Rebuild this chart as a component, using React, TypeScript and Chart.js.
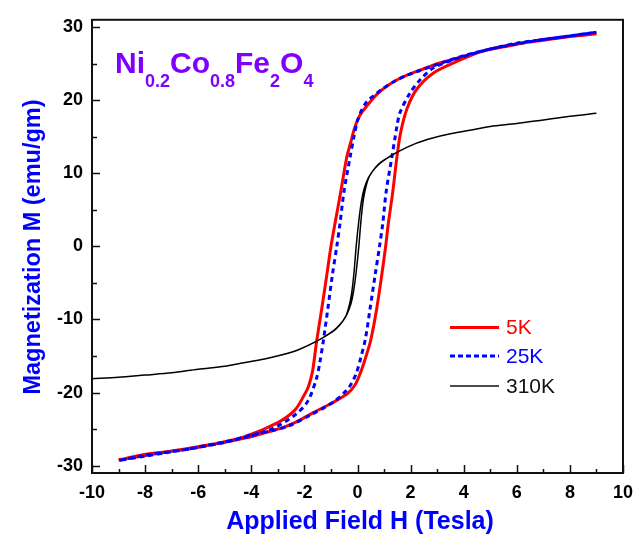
import React, { useEffect, useRef } from 'react';
import { Chart, registerables } from 'chart.js';

Chart.register(...registerables);

// ---- Data (H in Tesla, M in emu/gm) ----
// 5K loop: descending branch (+9 -> -9) then ascending branch (-9 -> +9)
const h5K_down = [9, 8, 7, 6, 5, 4.6, 4, 3.5, 3, 2.5, 2.2, 1.6, 1.1, 0.7, 0.35, 0.1, -0.1, -0.25, -0.41, -0.63, -0.85, -1.0, -1.16, -1.35, -1.54, -1.69, -1.85, -2.0, -2.36, -3.0, -4.3, -5.5, -6.5, -7.9, -9];
const m5K_down = [29.1, 28.7, 28.2, 27.7, 27.0, 26.6, 26.0, 25.5, 25.0, 24.3, 23.9, 23.0, 21.9, 20.7, 19.2, 18.0, 16.3, 14.3, 12.1, 7.5, 3.1, 0, -4.0, -8.6, -13.0, -17.0, -19.2, -20.3, -22.4, -24.1, -26.1, -27.1, -27.8, -28.4, -29.2];
const h5K_up = [-9, -8, -7, -6, -5, -4.2, -3.5, -2.9, -2.3, -1.7, -1.0, -0.4, -0.1, 0.1, 0.28, 0.5, 0.72, 0.91, 1.06, 1.16, 1.33, 1.48, 1.62, 1.86, 2.23, 2.85, 3.74, 4.6, 5.5, 7, 8, 9];
const m5K_up = [-29.2, -28.6, -28.0, -27.4, -26.8, -26.2, -25.5, -24.9, -24.0, -22.8, -21.5, -20.2, -19.0, -17.4, -15.5, -12.8, -8.6, -4.0, 0, 3.1, 7.5, 12.1, 15.5, 18.8, 21.5, 23.7, 25.3, 26.6, 27.3, 28.3, 28.7, 29.1];

// 25K loop
const h25K_down = [9, 8, 7, 6, 5, 4, 3.5, 2.85, 2.3, 1.86, 1.4, 0.96, 0.6, 0.35, 0.15, 0, -0.14, -0.28, -0.51, -0.66, -0.78, -0.95, -1.12, -1.29, -1.42, -1.54, -1.86, -2.3, -3.18, -4.2, -5.5, -6.5, -7.9, -9];
const m25K_down = [29.3, 28.8, 28.3, 27.7, 27.0, 26.1, 25.5, 24.7, 24.0, 23.4, 22.6, 21.6, 20.6, 19.8, 18.6, 17.2, 14.9, 12.2, 7.5, 3.1, 0, -4.0, -8.6, -13.0, -15.9, -18.0, -21.1, -22.9, -24.9, -26.1, -27.1, -27.8, -28.5, -29.3];
const h25K_up = [-9, -8, -7, -6, -5, -4, -3.2, -2.55, -1.79, -0.91, -0.47, -0.25, -0.05, 0.12, 0.3, 0.47, 0.66, 0.83, 0.95, 1.08, 1.29, 1.48, 1.6, 1.98, 2.36, 2.85, 3.5, 4.2, 5, 6, 7, 8, 9];
const m25K_up = [-29.3, -28.7, -28.1, -27.5, -26.8, -25.8, -25.2, -24.5, -23.1, -21.3, -19.9, -18.9, -17.4, -15.3, -12.6, -8.6, -4.0, 0, 3.1, 7.5, 12.1, 16.3, 18.3, 21.0, 22.8, 24.4, 25.4, 26.2, 27.0, 27.8, 28.3, 28.8, 29.3];

// 310K loop
const h310K_down = [9, 8, 7, 6, 5, 4.4, 3.5, 2.8, 2.2, 1.5, 1.05, 0.8, 0.55, 0.4, 0.25, 0.15, 0.05, -0.05, -0.13, -0.22, -0.32, -0.45, -0.7, -0.95, -1.55, -2.2, -2.8, -3.5, -4.4, -5, -6, -7, -8, -9, -10];
const m310K_down = [18.2, 17.8, 17.3, 16.8, 16.4, 16.0, 15.4, 14.8, 14.1, 12.9, 11.9, 11.2, 10.2, 9.3, 7.9, 6.2, 3.5, 0, -3.5, -6.4, -8.2, -9.6, -10.9, -11.7, -13.0, -14.1, -14.8, -15.4, -16.0, -16.4, -16.8, -17.3, -17.6, -17.9, -18.1];
const h310K_up = [-10, -9, -8, -7, -6, -5, -4.4, -3.5, -2.8, -2.2, -1.5, -1.05, -0.8, -0.55, -0.4, -0.25, -0.15, -0.05, 0.05, 0.13, 0.22, 0.32, 0.45, 0.7, 0.95, 1.55, 2.2, 2.8, 3.5, 4.4, 5, 6, 7, 8, 9];
const m310K_up = [-18.1, -17.9, -17.6, -17.3, -16.8, -16.4, -16.0, -15.4, -14.8, -14.1, -12.9, -11.9, -11.2, -10.2, -9.3, -7.9, -6.2, -3.5, 0, 3.5, 6.4, 8.2, 9.6, 10.9, 11.7, 13.0, 14.1, 14.8, 15.4, 16.0, 16.4, 16.8, 17.3, 17.8, 18.2];

const xTicks = [-10, -8, -6, -4, -2, 0, 2, 4, 6, 8, 10];
const xMinorTicks = [-9, -7, -5, -3, -1, 1, 3, 5, 7, 9];
const yTicks = [-30, -20, -10, 0, 10, 20, 30];
const yMinorTicks = [-25, -15, -5, 5, 15, 25];
const seriesLabels = ['5K', '25K', '310K'];
const xTitle = 'Applied Field H (Tesla)';
const yTitle = 'Magnetization M (emu/gm)';
const formulaParts: [string, string][] = [['Ni', '0.2'], ['Co', '0.8'], ['Fe', '2'], ['O', '4']];

const toPts = (hs: number[], ms: number[]) => hs.map((h, i) => ({ x: h, y: ms[i] }));

const RED = '#ff0000';
const BLUE = '#0000ff';
const BLACK = '#000000';
const FONT = '"Liberation Sans", Arial, sans-serif';

const decorPlugin = {
  id: 'decor',
  afterDraw(chart: any) {
    const ctx = chart.ctx as CanvasRenderingContext2D;
    const { left, right, top, bottom } = chart.chartArea;
    const xs = chart.scales.x;
    const ys = chart.scales.y;
    ctx.save();
    // frame
    ctx.strokeStyle = '#111';
    ctx.lineWidth = 2;
    ctx.strokeRect(left, top, right - left, bottom - top);
    // ticks inward
    ctx.lineWidth = 1.5;
    ctx.beginPath();
    xTicks.forEach(v => { const p = Math.round(xs.getPixelForValue(v)) + 0.5; ctx.moveTo(p, bottom); ctx.lineTo(p, bottom - 8); });
    xMinorTicks.forEach(v => { const p = Math.round(xs.getPixelForValue(v)) + 0.5; ctx.moveTo(p, bottom); ctx.lineTo(p, bottom - 4); });
    yTicks.forEach(v => { const p = Math.round(ys.getPixelForValue(v)) + 0.5; ctx.moveTo(left, p); ctx.lineTo(left + 8, p); });
    yMinorTicks.forEach(v => { const p = Math.round(ys.getPixelForValue(v)) + 0.5; ctx.moveTo(left, p); ctx.lineTo(left + 5, p); });
    ctx.stroke();

    // axis titles
    ctx.fillStyle = BLUE;
    ctx.textAlign = 'center';
    ctx.textBaseline = 'middle';
    ctx.font = `bold 25px ${FONT}`;
    ctx.fillText(xTitle, 360, 522);
    ctx.save();
    ctx.translate(34, 247);
    ctx.rotate(-Math.PI / 2);
    ctx.font = `bold 23.5px ${FONT}`;
    ctx.fillText(yTitle, 0, 0);
    ctx.restore();

    // formula
    ctx.fillStyle = '#8000ff';
    ctx.textAlign = 'left';
    ctx.textBaseline = 'alphabetic';
    let x = 115;
    const base = 73;
    formulaParts.forEach(([main, sub]) => {
      ctx.font = `bold 30px ${FONT}`;
      ctx.fillText(main, x, base);
      x += ctx.measureText(main).width;
      ctx.font = `bold 18px ${FONT}`;
      ctx.fillText(sub, x, base + 14);
      x += ctx.measureText(sub).width;
    });

    // legend
    const leg = [
      { label: seriesLabels[0], color: RED, width: 3, dash: [] as number[], y: 327.5 },
      { label: seriesLabels[1], color: BLUE, width: 3, dash: [5, 3], y: 356 },
      { label: seriesLabels[2], color: '#111', width: 1.5, dash: [] as number[], y: 386 },
    ];
    ctx.font = `21px ${FONT}`;
    ctx.textBaseline = 'middle';
    leg.forEach(l => {
      ctx.strokeStyle = l.color;
      ctx.lineWidth = l.width;
      ctx.setLineDash(l.dash);
      ctx.beginPath();
      ctx.moveTo(450, l.y);
      ctx.lineTo(499, l.y);
      ctx.stroke();
      ctx.setLineDash([]);
      ctx.fillStyle = l.color;
      ctx.fillText(l.label, 506, l.y + 1);
    });
    ctx.restore();
  },
};

export default function App() {
  const canvasRef = useRef<HTMLCanvasElement | null>(null);
  useEffect(() => {
    if (!canvasRef.current) return;
    const tickFont = { family: FONT, size: 18, weight: 'bold' as const };
    const chart = new Chart(canvasRef.current, {
      type: 'scatter',
      data: {
        datasets: [
          {
            label: seriesLabels[2],
            data: [...toPts(h310K_down, m310K_down), ...toPts(h310K_up, m310K_up)],
            borderColor: BLACK, borderWidth: 1.5, showLine: true, pointRadius: 0, tension: 0.3, order: 1,
          },
          {
            label: seriesLabels[1],
            data: [...toPts(h25K_down, m25K_down), ...toPts(h25K_up, m25K_up)],
            borderColor: BLUE, borderWidth: 3, borderDash: [5, 4], showLine: true, pointRadius: 0, tension: 0.3, order: 2,
          },
          {
            label: seriesLabels[0],
            data: [...toPts(h5K_down, m5K_down), ...toPts(h5K_up, m5K_up)],
            borderColor: RED, borderWidth: 3, showLine: true, pointRadius: 0, tension: 0.3, order: 3,
          },
        ],
      },
      options: {
        animation: false,
        responsive: false,
        layout: { padding: { top: 13, right: 21, left: 0, bottom: 0 } },
        plugins: { legend: { display: false }, tooltip: { enabled: false }, title: { display: false } },
        scales: {
          x: {
            type: 'linear', min: -10, max: 10,
            grid: { display: false, drawTicks: false },
            border: { display: false },
            afterBuildTicks: (s: any) => { s.ticks = xTicks.map(v => ({ value: v })); },
            afterFit: (s: any) => { s.height = 70; },
            ticks: { font: tickFont, color: '#000', padding: 9, autoSkip: false, maxRotation: 0 },
          },
          y: {
            type: 'linear', min: -31, max: 31,
            grid: { display: false, drawTicks: false },
            border: { display: false },
            afterBuildTicks: (s: any) => { s.ticks = yTicks.map(v => ({ value: v })); },
            afterFit: (s: any) => { s.width = 92; },
            ticks: { font: tickFont, color: '#000', padding: 9, autoSkip: false },
          },
        },
      },
      plugins: [decorPlugin],
    });
    return () => chart.destroy();
  }, []);
  return (
    <div style={{ position: 'fixed', left: 0, top: 0, width: 644, height: 543, background: '#fff' }}>
      <canvas ref={canvasRef} width={644} height={543} style={{ width: 644, height: 543, display: 'block' }} />
    </div>
  );
}
